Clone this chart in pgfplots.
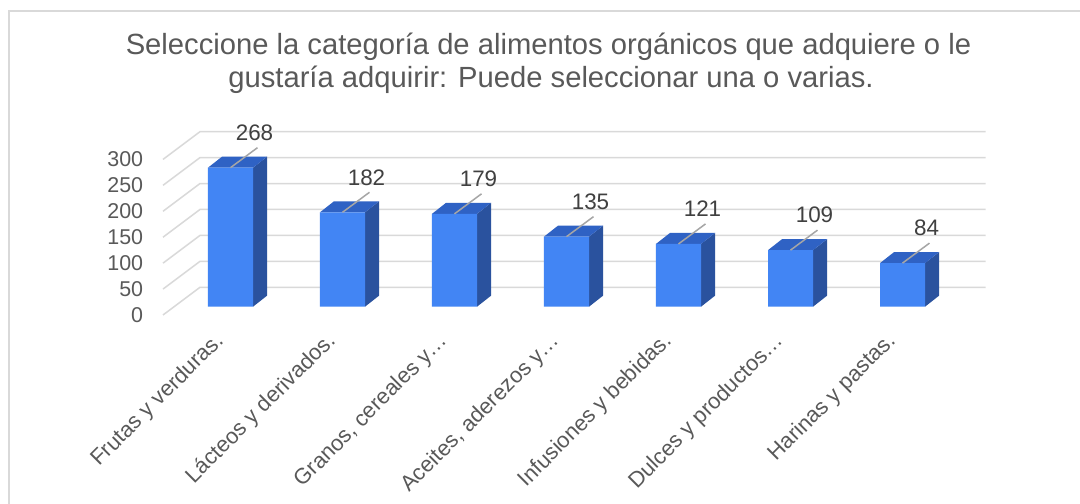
\documentclass[border=0pt]{standalone}
\usepackage{fontspec}
\setmainfont{Liberation Sans}
\usepackage{pgfplots}
\usepackage{pgfplotstable}
\pgfplotsset{compat=1.18}
\definecolor{frontc}{HTML}{4285F4}
\definecolor{topc}{HTML}{2F62C4}
\definecolor{sidec}{HTML}{2A529E}
\definecolor{gridc}{HTML}{D9D9D9}
\definecolor{txt}{HTML}{595959}
\definecolor{labc}{HTML}{404040}
\definecolor{leadc}{HTML}{A6A6A6}
\definecolor{borderc}{HTML}{D9D9D9}

\pgfplotstableread{
idx v
0 268
1 182
2 179
3 135
4 121
5 109
6 84
}\datatab

\begin{document}
\begin{tikzpicture}
\useasboundingbox (0,0) rectangle (1080bp,504bp);
\fill[white] (0,0) rectangle (1080bp,504bp);
\draw[borderc, line width=2bp] (9bp,0) -- (9bp,493bp) -- (1080bp,493bp);
\node[font=\fontsize{29.3}{33}\selectfont, text=txt] at (548.5bp,457bp) {Seleccione la categoría de alimentos orgánicos que adquiere o le};
\node[font=\fontsize{29.3}{33}\selectfont, text=txt] at (551bp,424bp) {gustaría adquirir: Puede seleccionar una o varias.};
\begin{axis}[
  at={(118.5bp,166.18bp)}, anchor=south west,
  x=112bp, y=0.5187bp,
  xmin=-1, xmax=7, ymin=-60, ymax=360,
  clip=false,
  axis line style={draw=none},
  major tick length=0pt,
  xtick={0,...,6},
  xticklabels={Frutas y verduras., Lácteos y derivados., {Granos, cereales y…}, {Aceites, aderezos y…}, Infusiones y bebidas., Dulces y productos…, Harinas y pastas.},
  xticklabel style={font=\fontsize{22}{24}\selectfont, text=txt, inner sep=0pt, xshift=-10bp, rotate=45, anchor=east},
  ytick={0,50,...,300},
  yticklabel style={font=\fontsize{21.5}{24}\selectfont, text=txt, inner sep=0pt, anchor=east, xshift=24.8bp, yshift=-8.3bp},
  /pgf/number format/assume math mode=true,
]
\pgfplotsinvokeforeach{0,50,...,300}{
  \pgfmathsetmacro\ya{#1-16}\pgfmathsetmacro\yb{#1+37.4}
  \edef\tmp{\noexpand\draw[gridc, line width=1.5bp] (axis cs:-0.6027,\ya) -- (axis cs:-0.2723,\yb) -- (axis cs:6.743,\yb);}\tmp
}
\pgfplotsinvokeforeach{0,...,6}{
  \pgfplotstablegetelem{#1}{v}\of\datatab
  \pgfmathsetmacro\v{\pgfplotsretval}
  \pgfmathsetmacro\vt{\v+21.2}
  \pgfmathsetmacro\xa{#1+0.201}
  \pgfmathsetmacro\xb{#1+0.326}
  \pgfmathsetmacro\xc{#1-0.076}
  \pgfmathsetmacro\xl{#1-0.201}
  \edef\tmp{\noexpand\addplot[fill=sidec, draw=none] coordinates {(\xa,0) (\xb,21.2) (\xb,\vt) (\xa,\v)} --cycle;
  \noexpand\addplot[fill=topc, draw=none] coordinates {(\xl,\v) (\xa,\v) (\xb,\vt) (\xc,\vt)} --cycle;}\tmp
}
\addplot[ybar, bar width=0.402, bar shift=0pt, fill=frontc, draw=none,
  nodes near coords,
  every node near coord/.append style={anchor=center, xshift=24bp, yshift=35bp, font=\fontsize{22.5}{26}\selectfont, text=labc}]
  table[x=idx, y=v]{\datatab};
\addplot[quiver={u=0.241, v=38.6}, draw=leadc, line width=1.5bp] table[x=idx, y=v]{\datatab};
\end{axis}
\end{tikzpicture}
\end{document}
